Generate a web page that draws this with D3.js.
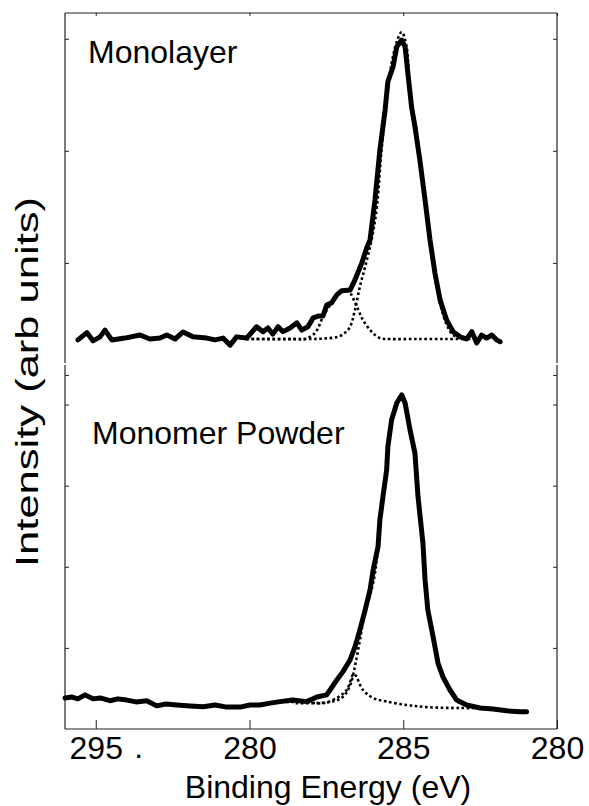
<!DOCTYPE html>
<html>
<head>
<meta charset="utf-8">
<script src="https://cdn.jsdelivr.net/npm/d3@7"></script>
<style>
  body { margin: 0; background: #fff; }
  text { font-family: "Liberation Sans", Arial, sans-serif; fill: #000; }
</style>
</head>
<body>
<div id="chart"></div>
<script>
// tick labels as printed on the figure
const xTickValues = [295, 290, 285, 280];
const xTickLabels = ["295", "280", "285", "280"];
const topTickValues = [1, 2, 3, 4];
const bottomTickValues = [1, 2, 3, 4];
const panelLabels = ["Monolayer", "Monomer Powder"];

// [binding energy (eV), normalized intensity]
const monolayer = [
  [295.58,-0.003],[295.29,0.021],[295.09,-0.006],[294.86,0.007],[294.70,0.029],[294.48,-0.003],
  [294.05,0.003],[293.56,0.013],[293.24,0],[292.91,0.003],[292.69,0.013],[292.42,0],
  [292.16,0.023],[291.84,0.007],[291.39,0.003],[291.12,-0.003],[290.86,0.003],[290.63,-0.020],
  [290.42,0.007],[290.09,0.003],[289.77,0.040],[289.56,0.024],[289.40,0.036],[289.24,0.016],
  [289.07,0.040],[288.91,0.024],[288.68,0.036],[288.46,0.053],[288.30,0.029],[288.10,0.040],
  [287.93,0.069],[287.77,0.075],[287.61,0.075],[287.49,0.111],[287.33,0.118],[287.16,0.144],
  [287.00,0.158],[286.73,0.160],[286.57,0.193],[286.35,0.248],[286.19,0.297],[286.08,0.324],
  [285.92,0.454],[285.76,0.618],[285.59,0.748],[285.50,0.841],[285.33,0.890],[285.21,0.955],
  [285.05,0.977],[284.94,0.955],[284.85,0.869],[284.73,0.759],[284.62,0.694],[284.46,0.585],
  [284.29,0.454],[284.13,0.324],[283.97,0.216],[283.80,0.127],[283.59,0.062],[283.38,0.024],
  [283.15,0.007],[282.94,0],[282.77,0.024],[282.61,-0.013],[282.45,0.013],[282.29,0.003],
  [282.12,0.013],[281.96,-0.003],[281.85,-0.009]
];
const monolayerMain = [
  [290.1,0],[288.0,0],[287.5,0.002],[287.1,0.008],[286.9,0.02],[286.73,0.04],[286.57,0.095],
  [286.41,0.171],[286.24,0.236],[286.03,0.324],[285.86,0.43],[285.72,0.6],[285.55,0.78],
  [285.38,0.9],[285.2,0.975],[285.05,1.003],[284.9,0.96],[284.75,0.77],[284.6,0.7],
  [284.45,0.58],[284.29,0.445],[284.13,0.315],[283.97,0.205],[283.8,0.115],[283.6,0.05],
  [283.4,0.015],[283.15,0.003],[282.9,0],[282.6,0]
];
const monolayerShoulder = [
  [290.1,0],[288.5,0],[288.2,0],[287.87,0.02],[287.61,0.072],[287.38,0.111],[287.06,0.15],
  [286.8,0.157],[286.51,0.106],[286.31,0.062],[286.03,0.024],[285.76,0.003],[285.43,0],
  [284.5,0],[283.6,0],[283.0,0]
];
const powder = [
  [296.00,0.010],[295.77,0.013],[295.58,0.007],[295.35,0.020],[295.09,0.007],[294.86,0.010],
  [294.54,0.001],[294.28,0.007],[293.99,0.003],[293.69,-0.003],[293.34,0.001],[293.02,-0.016],
  [292.72,-0.010],[292.37,-0.013],[291.93,-0.016],[291.51,-0.019],[291.12,-0.013],[290.74,-0.020],
  [290.31,-0.020],[289.98,-0.013],[289.66,-0.013],[289.33,-0.007],[289.01,-0.002],[288.59,0.003],
  [288.14,-0.002],[287.81,0.013],[287.49,0.020],[287.38,0.036],[287.16,0.069],[286.96,0.096],
  [286.73,0.134],[286.57,0.177],[286.41,0.232],[286.24,0.297],[286.08,0.363],[285.98,0.428],
  [285.82,0.504],[285.76,0.592],[285.66,0.668],[285.54,0.755],[285.50,0.831],[285.38,0.918],
  [285.21,0.974],[285.05,1.000],[284.94,0.974],[284.78,0.886],[284.62,0.810],[284.52,0.668],
  [284.36,0.516],[284.29,0.395],[284.20,0.297],[284.03,0.210],[283.87,0.124],[283.71,0.079],
  [283.48,0.036],[283.26,0.003],[282.94,-0.013],[282.50,-0.023],[282.08,-0.026],[281.64,-0.032],
  [281.20,-0.035],[280.99,-0.035]
];
const powderMain = [
  [288.5,-0.007],[287.5,-0.005],[287.1,0.005],[286.9,0.02],[286.7,0.059],[286.55,0.124],
  [286.39,0.21],[286.24,0.297],[286.06,0.353],[285.9,0.43],[285.76,0.59],[285.6,0.72],
  [285.45,0.86],[285.3,0.95],[285.12,0.995],[285.04,1.003],[284.94,0.97],[284.78,0.885],
  [284.62,0.805],[284.52,0.665],[284.36,0.512],[284.29,0.39],[284.2,0.292],[284.03,0.205],
  [283.87,0.12],[283.71,0.075],[283.48,0.032],[283.26,0],[283.0,-0.012]
];
const powderShoulder = [
  [288.8,-0.003],[288.2,-0.003],[287.61,-0.007],[287.16,0.01],[286.84,0.036],[286.6,0.088],
  [286.31,0.036],[285.98,0.01],[285.54,-0.002],[284.89,-0.013],[284.24,-0.02],[283.15,-0.023],
  [282.6,-0.023]
];

const width = 589, height = 806;
const box = {left: 65, right: 557, top: 13, bottom: 729, split: 364};

const svg = d3.select("#chart").append("svg")
    .attr("width", width)
    .attr("height", height);

const x = d3.scaleLinear().domain([296, 280]).range([box.left, box.right]);
const yTop = d3.scaleLinear().domain([0, 1]).range([339, 33]);
const yBot = d3.scaleLinear().domain([0, 1]).range([701, 395]);
// frame tick scales of the two stacked axes
const yTopTicks = d3.scaleLinear().domain([0, 4.23]).range([487, box.top]);
const yBotTicks = d3.scaleLinear().domain([0, 4.5]).range([box.bottom, box.split]);

// axes (ticks only, frame drawn below)
svg.append("g")
    .attr("class", "axis axis--x")
    .attr("transform", "translate(0," + box.bottom + ")")
    .call(d3.axisBottom(x).tickValues(xTickValues).tickFormat((d, i) => xTickLabels[i])
      .tickSizeInner(-9).tickSizeOuter(0).tickPadding(7));

svg.append("g")
    .attr("transform", "translate(0," + box.top + ")")
    .call(d3.axisTop(x).tickValues(xTickValues).tickFormat("").tickSizeInner(-3).tickSizeOuter(0));

[[yTopTicks, topTickValues], [yBotTicks, bottomTickValues]].forEach(([s, vals]) => {
  svg.append("g")
      .attr("transform", "translate(" + box.left + ",0)")
      .call(d3.axisLeft(s).tickValues(vals).tickFormat("").tickSizeInner(-4).tickSizeOuter(0));
  svg.append("g")
      .attr("transform", "translate(" + box.right + ",0)")
      .call(d3.axisRight(s).tickValues(vals).tickFormat("").tickSizeInner(-4).tickSizeOuter(0));
});

svg.selectAll(".domain").remove();
svg.selectAll(".tick line").attr("stroke", "#222");
svg.selectAll(".axis--x text").style("font-size", "32px").attr("fill", "#000");

// frame
const frame = svg.append("g").attr("stroke", "#222").attr("stroke-width", 1.2).attr("fill", "none");
frame.append("line").attr("x1", box.left).attr("x2", box.right).attr("y1", box.top).attr("y2", box.top);
frame.append("line").attr("x1", box.left).attr("x2", box.right).attr("y1", box.bottom).attr("y2", box.bottom);
[box.left, box.right].forEach(xx => {
  frame.append("line").attr("x1", xx).attr("x2", xx).attr("y1", box.top).attr("y2", box.split - 1);
  frame.append("line").attr("x1", xx).attr("x2", xx).attr("y1", box.split + 1).attr("y2", box.bottom);
});

// stray dot under the axis
svg.append("text")
    .attr("x", x(293.6))
    .attr("y", 758)
    .attr("text-anchor", "middle")
    .style("font-size", "32px")
    .text(".");

const lineTop = d3.line().x(d => x(d[0])).y(d => yTop(d[1]));
const lineBot = d3.line().x(d => x(d[0])).y(d => yBot(d[1]));
const smooth = d3.curveCatmullRom.alpha(0.5);

const dotted = [[monolayerShoulder, lineTop], [monolayerMain, lineTop], [powderShoulder, lineBot], [powderMain, lineBot]];
svg.selectAll(".fit")
  .data(dotted)
  .enter().append("path")
    .attr("class", "fit")
    .attr("fill", "none")
    .attr("stroke", "#000")
    .attr("stroke-width", 2.6)
    .attr("stroke-dasharray", "2.6,2.6")
    .attr("d", d => d[1].curve(smooth)(d[0]));

svg.selectAll(".spectrum")
  .data([[monolayer, lineTop], [powder, lineBot]])
  .enter().append("path")
    .attr("class", "spectrum")
    .attr("fill", "none")
    .attr("stroke", "#000")
    .attr("stroke-width", 5)
    .attr("stroke-linejoin", "round")
    .attr("stroke-linecap", "round")
    .attr("d", d => d[1].curve(d3.curveLinear)(d[0]));

// panel labels
svg.selectAll(".panel-label")
  .data(panelLabels)
  .enter().append("text")
    .attr("class", "panel-label")
    .attr("x", (d, i) => i ? 92 : 88)
    .attr("y", (d, i) => i ? 444 : 63)
    .style("font-size", "32px")
    .text(d => d);

// axis titles
svg.append("text")
    .attr("x", 328)
    .attr("y", 798)
    .attr("text-anchor", "middle")
    .style("font-size", "32px")
    .text("Binding Energy (eV)");

svg.append("text")
    .attr("transform", "translate(38,382) rotate(-90) scale(1.36,1)")
    .attr("text-anchor", "middle")
    .style("font-size", "32px")
    .text("Intensity (arb units)");
</script>
</body>
</html>
